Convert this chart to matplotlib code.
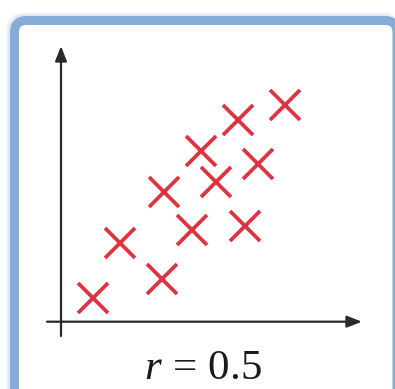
import matplotlib
matplotlib.use("Agg")
import matplotlib.pyplot as plt
from matplotlib.patches import FancyBboxPatch

# data (arbitrary units, origin at axes corner)
x_vals = [1.08, 1.97, 3.36, 3.43, 4.38, 4.67, 5.17, 5.91, 6.13, 6.56, 7.47]
y_vals = [0.80, 2.61, 1.41, 4.31, 3.06, 5.69, 4.67, 6.72, 3.20, 5.25, 7.22]
label = r"$r\,=\,0.5$"

plt.rcParams['mathtext.fontset'] = 'custom'
plt.rcParams['mathtext.rm'] = 'Liberation Serif'
plt.rcParams['mathtext.it'] = 'Liberation Serif:italic'

W, H = 395, 389
fig = plt.figure(figsize=(W/100, H/100), dpi=100)
ax = fig.add_axes([0, 0, 1, 1])
S = 30.0
ox, oy = 61, 321.7
ax.set_xlim(-ox/S, (W-ox)/S)
ax.set_ylim((oy-H)/S, oy/S)
ax.axis('off')

def px(x, y):
    return ((x-ox)/S, (oy-y)/S)

R = 397
# soft glow around frame
for i, a in enumerate([0.06, 0.12, 0.2]):
    d = 3 - i
    fb = FancyBboxPatch(px(14.5 - d, 420), (R - 14.5 + 2*d)/S, (420 - 20.5 + d)/S,
                        boxstyle="round,pad=0,rounding_size=0.4",
                        fc='none', ec='#a9c4e4', lw=8, alpha=a, zorder=0)
    ax.add_patch(fb)

# frame
frame = FancyBboxPatch(px(14.5, 420), (R-14.5)/S, (420-20.5)/S,
                       boxstyle="round,pad=0,rounding_size=0.4",
                       fc='white', ec='#87acd6', lw=6.5, zorder=1)
ax.add_patch(frame)

# axes arrows
ax.annotate('', xy=px(362, 321.7), xytext=px(47, 321.7),
            arrowprops=dict(arrowstyle='-|>,head_length=0.9,head_width=0.35',
                            color='#2a2a2a', lw=1.6, shrinkA=0, shrinkB=0), zorder=3)
ax.annotate('', xy=px(61, 46), xytext=px(61, 336),
            arrowprops=dict(arrowstyle='-|>,head_length=0.9,head_width=0.35',
                            color='#2a2a2a', lw=1.6, shrinkA=0, shrinkB=0), zorder=3)

ax.plot(x_vals, y_vals, linestyle='none', marker='x', markersize=21,
        markeredgewidth=2.7, color='#e0333f', zorder=4)

tx, ty = px(203, 367)
ax.text(tx, ty, label, ha='center', va='center', fontsize=31, color='#1a1a1a', zorder=5)

fig.savefig('out.png', dpi=100)
